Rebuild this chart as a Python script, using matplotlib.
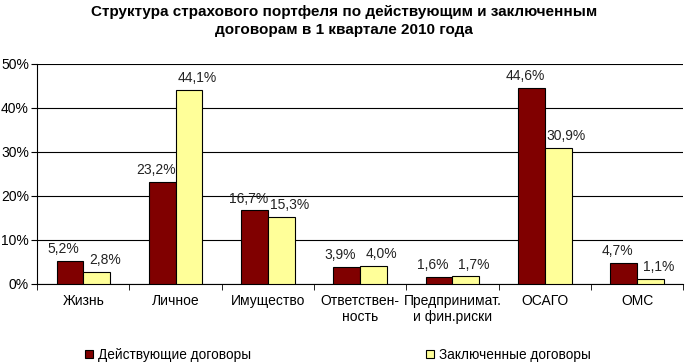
import matplotlib
matplotlib.use('Agg')
import matplotlib.pyplot as plt
import numpy as np

categories = ['Жизнь', 'Личное', 'Имущество', 'Ответствен-\nность',
              'Предпринимат.\nи фин.риски', 'ОСАГО', 'ОМС']
active = [5.2, 23.2, 16.7, 3.9, 1.6, 44.6, 4.7]
signed = [2.8, 44.1, 15.3, 4.0, 1.7, 30.9, 1.1]
series_names = ['Действующие договоры', 'Заключенные договоры']

plt.rcParams['font.family'] = ['Liberation Sans', 'DejaVu Sans']

fig = plt.figure(figsize=(6.88, 3.63), dpi=100)
ax = fig.add_axes([0.054, 0.218, 0.939, 0.606])

x = np.arange(len(categories))
w = 0.29
b1 = ax.bar(x - w / 2, active, w, color='#800000', edgecolor='black', linewidth=0.8,
            label=series_names[0], zorder=3)
b2 = ax.bar(x + w / 2, signed, w, color='#FFFF99', edgecolor='black', linewidth=0.8,
            label=series_names[1], zorder=3)

# Excel-style label placement: dark labels nudged left, light ones right
for bars, vals, dx in ((b1, active, -4.5), (b2, signed, 6)):
    for r, v in zip(bars, vals):
        ax.annotate(('%.1f%%' % v).replace('.', ','),
                    (r.get_x() + r.get_width() / 2, v), xytext=(dx, 3.5),
                    textcoords='offset points', ha='center', va='bottom',
                    fontsize=10, color='#222222')

ax.set_xlim(-0.5, len(categories) - 0.5)
ax.set_ylim(0, 50)
ax.set_yticks(range(0, 51, 10))
ax.set_yticklabels(['%d%%' % v for v in range(0, 51, 10)], fontsize=10)
ax.set_xticks(x)
ax.set_xticklabels(categories, fontsize=10, linespacing=1.25)
ax.set_xticks(np.arange(-0.5, len(categories), 1), minor=True)
ax.tick_params(axis='x', which='major', length=0, pad=7)
ax.tick_params(axis='x', which='minor', length=4, direction='out')
ax.tick_params(axis='y', length=4, pad=2)
ax.yaxis.grid(True, color='black', linewidth=0.8, zorder=0)
for s in ('top', 'right'):
    ax.spines[s].set_visible(False)

fig.text(0.5, 0.985, 'Структура страхового портфеля по действующим и заключенным\nдоговорам в 1 квартале 2010 года',
         ha='center', va='top', fontsize=11, fontweight='bold',
         family=['Liberation Sans Narrow', 'Liberation Sans'], linespacing=1.35)

fig.legend(handles=[b1, b2], labels=series_names, loc='lower center',
           bbox_to_anchor=(0.491, -0.03), ncol=2, frameon=False, fontsize=9.8,
           handlelength=0.6, handleheight=0.6, columnspacing=12.8, handletextpad=0.4)

fig.savefig('out.png', dpi=100)
